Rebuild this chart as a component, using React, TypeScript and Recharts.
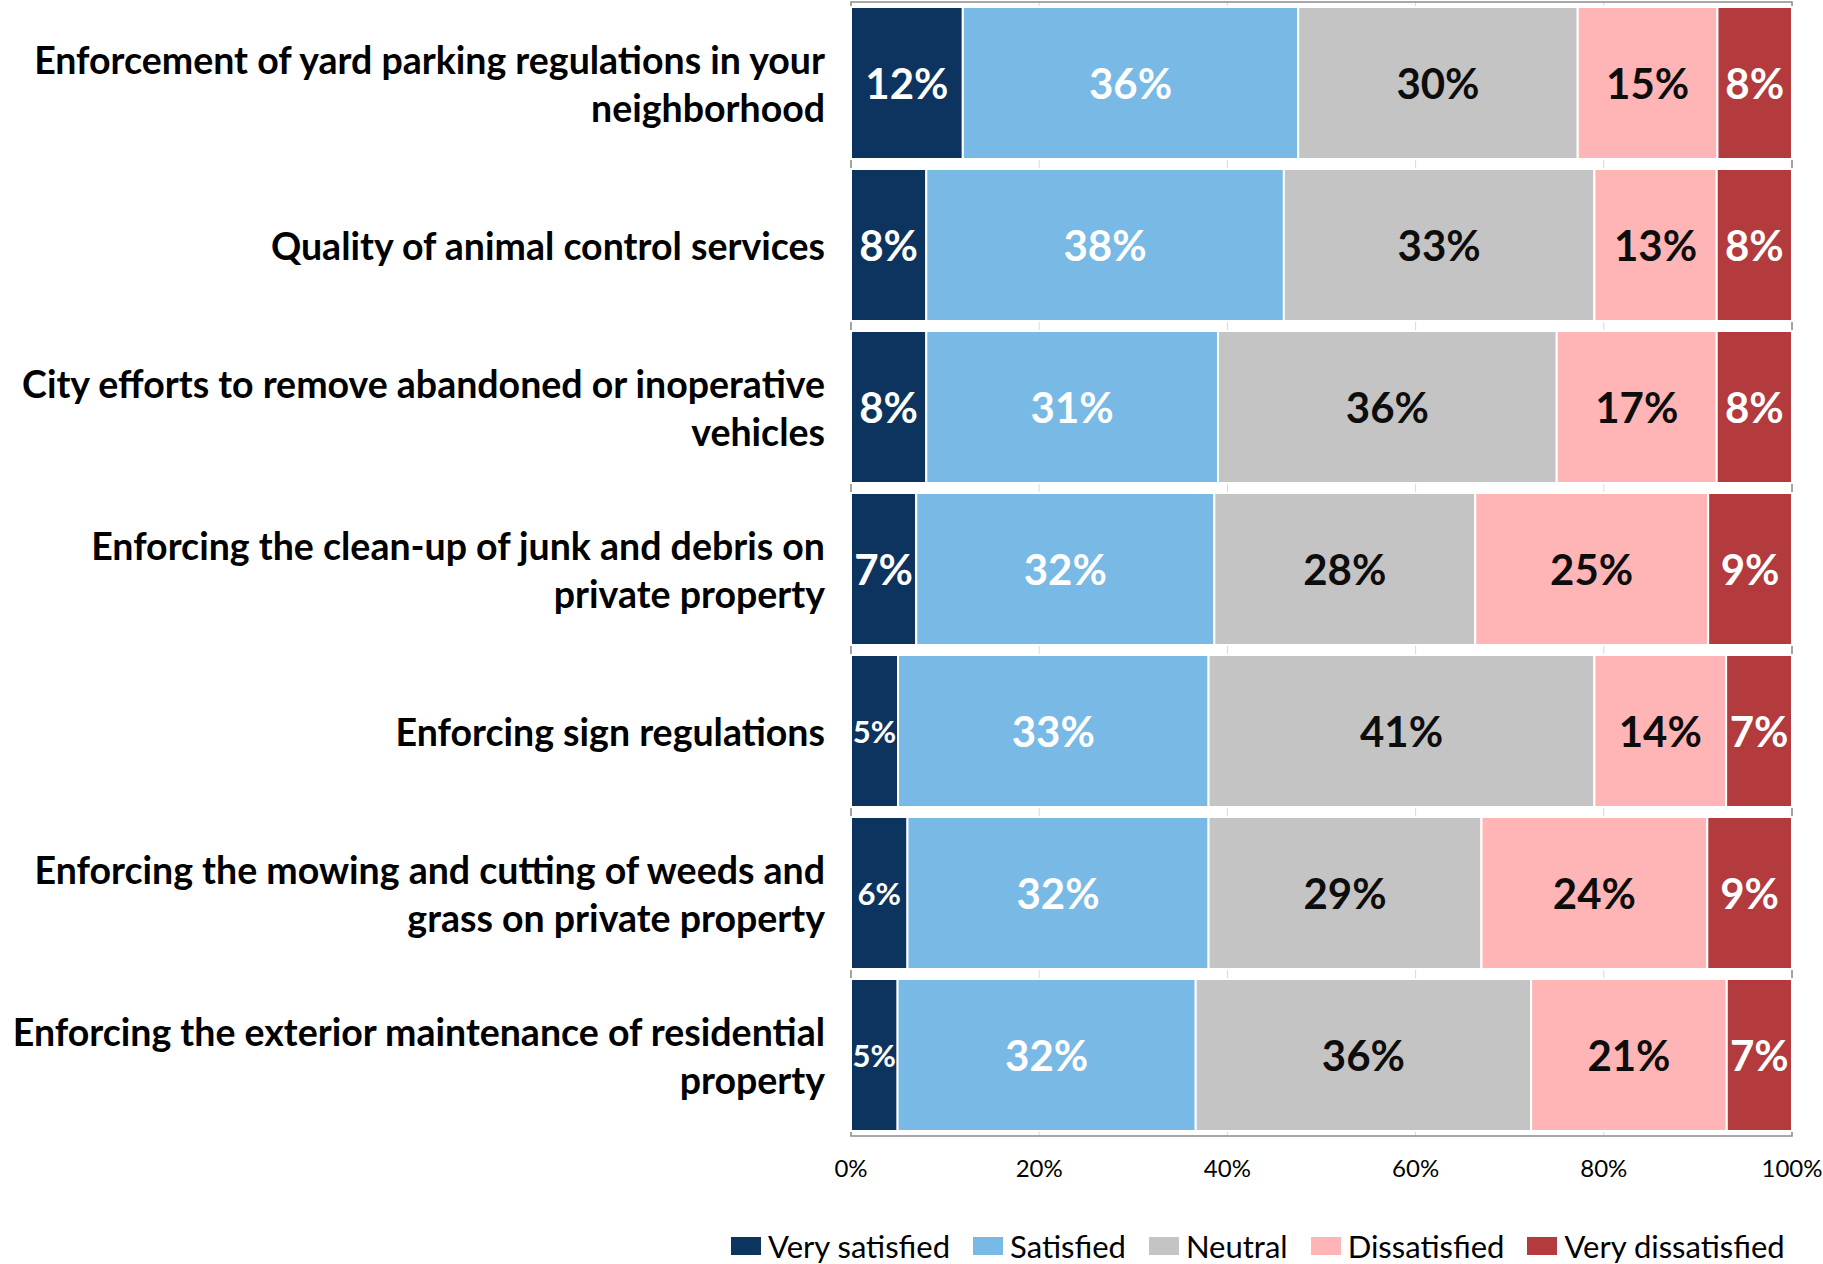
import React from "react";
import {
  BarChart,
  Bar,
  XAxis,
  YAxis,
  CartesianGrid,
  Legend,
  LabelList,
  ReferenceArea,
} from "recharts";

const CATEGORIES = [
  "Enforcement of yard parking regulations in your neighborhood",
  "Quality of animal control services",
  "City efforts to remove abandoned or inoperative vehicles",
  "Enforcing the clean-up of junk and debris on private property",
  "Enforcing sign regulations",
  "Enforcing the mowing and cutting of weeds and grass on private property",
  "Enforcing the exterior maintenance of residential property",
];

const VERY_SATISFIED = [12, 8, 8, 7, 5, 6, 5];
const SATISFIED = [36, 38, 31, 32, 33, 32, 32];
const NEUTRAL = [30, 33, 36, 28, 41, 29, 36];
const DISSATISFIED = [15, 13, 17, 25, 14, 24, 21];
const VERY_DISSATISFIED = [8, 8, 8, 9, 7, 9, 7];

const X_TICKS = [0, 0.2, 0.4, 0.6, 0.8, 1];

const SERIES = [
  { key: "vs", name: "Very satisfied", color: "#0D345E", text: "#ffffff" },
  { key: "s", name: "Satisfied", color: "#78BAE5", text: "#ffffff" },
  { key: "n", name: "Neutral", color: "#C4C4C4", text: "#0d0d0d" },
  { key: "d", name: "Dissatisfied", color: "#FFB5B5", text: "#0d0d0d" },
  { key: "vd", name: "Very dissatisfied", color: "#B33A3D", text: "#ffffff" },
];

const data = CATEGORIES.map((name, i) => ({
  name,
  vs: VERY_SATISFIED[i],
  s: SATISFIED[i],
  n: NEUTRAL[i],
  d: DISSATISFIED[i],
  vd: VERY_DISSATISFIED[i],
}));

const FONT = "Lato, 'Open Sans', sans-serif";
const CAT_FONT_SIZE = 37.5;

let ctx: CanvasRenderingContext2D | null = null;
function wrapText(text: string, maxWidth: number): string[] {
  if (!ctx) ctx = document.createElement("canvas").getContext("2d");
  if (!ctx) return [text];
  ctx.font = `bold ${CAT_FONT_SIZE}px Lato`;
  const words = text.split(" ");
  const lines: string[] = [];
  let cur = "";
  words.forEach((w) => {
    const next = cur ? cur + " " + w : w;
    if (cur && ctx!.measureText(next).width > maxWidth) {
      lines.push(cur);
      cur = w;
    } else {
      cur = next;
    }
  });
  if (cur) lines.push(cur);
  return lines;
}

function CategoryTick(props: any) {
  const { x, y, payload } = props;
  const lines = wrapText(payload.value, 840);
  const lh = 48;
  const start = y - ((lines.length - 1) * lh) / 2;
  return (
    <text
      textAnchor="end"
      fontFamily={FONT}
      fontWeight="bold"
      fontSize={CAT_FONT_SIZE}
      fill="#000"
    >
      {lines.map((l, i) => (
        <tspan key={i} x={x - 24} y={start + i * lh} dominantBaseline="central">
          {l}
        </tspan>
      ))}
    </text>
  );
}

function PercentTick(props: any) {
  const { x, y, payload } = props;
  return (
    <text
      x={x}
      y={y + 29}
      textAnchor="middle"
      dominantBaseline="central"
      fontFamily={FONT}
      fontSize={24}
      fill="#000"
    >
      {`${Math.round(payload.value * 100)}%`}
    </text>
  );
}

function makeLabel(color: string) {
  return (props: any) => {
    const { x, y, width, height, value } = props;
    const small = width < 60;
    return (
      <text
        x={x + width / 2}
        y={y + height / 2}
        textAnchor="middle"
        dominantBaseline="central"
        fontFamily={FONT}
        fontWeight="bold"
        fontSize={small ? 31 : 42}
        fill={color}
      >
        {`${value}%`}
      </text>
    );
  };
}

function LegendContent() {
  return (
    <div style={{ display: "flex", alignItems: "center", height: 36, fontFamily: FONT, fontSize: 31, color: "#000" }}>
      {SERIES.map((s) => (
        <div key={s.key} style={{ display: "flex", alignItems: "center", marginRight: 23 }}>
          <span style={{ width: 30, height: 18, background: s.color, display: "inline-block", marginRight: 7 }} />
          <span style={{ whiteSpace: "nowrap" }}>{s.name}</span>
        </div>
      ))}
    </div>
  );
}

export default function App() {
  return (
    <div style={{ position: "absolute", left: 0, top: 0, width: 1823, height: 1264, background: "#fff" }}>
      <BarChart
        width={1823}
        height={1264}
        data={data}
        layout="vertical"
        stackOffset="expand"
        barCategoryGap={5}
        margin={{ top: 2, right: 31, left: 0, bottom: 36 }}
      >
        <CartesianGrid horizontal={false} stroke="#d9d9d9" />
        <XAxis
          type="number"
          domain={[0, 1]}
          ticks={X_TICKS}
          tick={<PercentTick />}
          tickLine={false}
          tickSize={0}
          axisLine={false}
          height={56}
        />
        <YAxis
          type="category"
          dataKey="name"
          width={851}
          tick={<CategoryTick />}
          tickLine={false}
          tickSize={0}
          axisLine={false}
          interval={0}
        />
        {SERIES.map((s) => (
          <Bar
            key={s.key}
            dataKey={s.key}
            name={s.name}
            stackId="a"
            fill={s.color}
            stroke="#ffffff"
            strokeWidth={2}
            isAnimationActive={false}
          >
            <LabelList dataKey={s.key} content={makeLabel(s.text)} />
          </Bar>
        ))}
        <ReferenceArea x1={0} x2={1} fill="none" stroke="#8c8c8c" strokeWidth={1.5} ifOverflow="visible" />
        <Legend
          content={<LegendContent />}
          verticalAlign="bottom"
          wrapperStyle={{ left: 731, bottom: 0, width: "auto", height: 36 }}
        />
      </BarChart>
    </div>
  );
}
